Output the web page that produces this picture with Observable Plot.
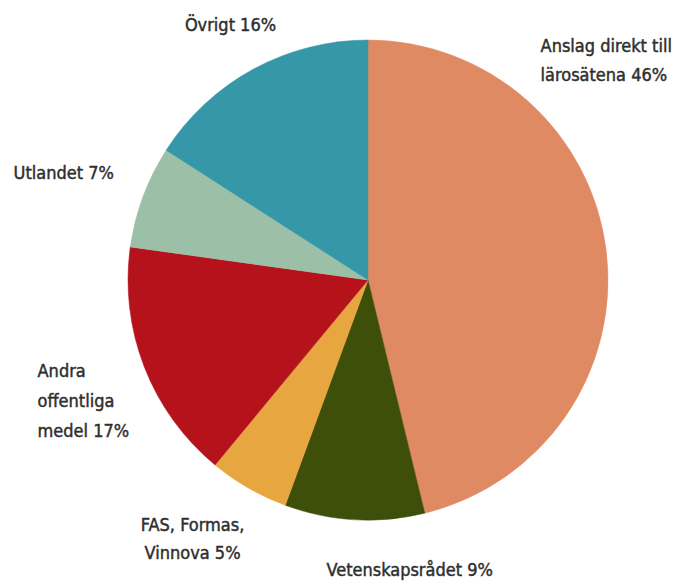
<!DOCTYPE html>
<html>
<head>
<meta charset="utf-8">
<script src="https://cdn.jsdelivr.net/npm/d3@7"></script>
<script src="https://cdn.jsdelivr.net/npm/@observablehq/plot@0.6"></script>
<style>
  html, body { margin: 0; padding: 0; background: #fff; }
  svg { display: block; }
</style>
</head>
<body>
<div id="chart"></div>
<script>
const categories = ["Anslag direkt till lärosätena", "Vetenskapsrådet", "FAS, Formas, Vinnova", "Andra offentliga medel", "Utlandet", "Övrigt"];
const shares = [46.2, 9.4, 5.4, 16.2, 6.9, 15.9];
const colors = ["#E08A63", "#3E4F0A", "#E8A640", "#B5121B", "#9CC0A7", "#3597A8"];
const labelLines = [
  ["Anslag direkt till", "lärosätena 46%"],
  ["Vetenskapsrådet 9%"],
  ["FAS, Formas,", "Vinnova 5%"],
  ["Andra", "offentliga", "medel 17%"],
  ["Utlandet 7%"],
  ["Övrigt 16%"]
];
// label anchor positions (in pie-radius units, centre = 0,0)
const labelX = [0.717, -0.175, -0.733, -1.379, -1.479, -0.575];
const labelY = [0.975, -1.208, -1.021, -0.379, 0.446, 1.062];
const labelAnchor = ["start", "start", "middle", "start", "start", "middle"];
const lineGap = [0.12, 0.12, 0.117, 0.125, 0.12, 0.12];

const slices = categories.map((c, i) => ({category: c, value: shares[i], color: colors[i]}));
const arcs = d3.pie().sort(null).value(d => d.value)(slices);

const labelRows = [];
labelLines.forEach((lines, i) => {
  lines.forEach((t, j) => {
    labelRows.push({text: t, x: labelX[i], y: labelY[i] - j * lineGap[i], anchor: labelAnchor[i]});
  });
});

function pieMark(index, scales, values, dimensions) {
  const cx = scales.x(0), cy = scales.y(0);
  const r = scales.x(1) - scales.x(0);
  const arcGen = d3.arc().innerRadius(0).outerRadius(r);
  const g = d3.create("svg:g").attr("transform", `translate(${cx},${cy})`);
  g.selectAll("path").data(arcs).join("path")
    .attr("d", arcGen)
    .attr("fill", d => d.data.color)
    .attr("stroke", d => d.data.color)
    .attr("stroke-width", 0.5);
  return g.node();
}

const font = "'DejaVu Sans Condensed', 'Liberation Sans Narrow', sans-serif";

const chart = Plot.plot({
  width: 681,
  height: 582,
  marginLeft: 128,
  marginRight: 73,
  marginTop: 40,
  marginBottom: 62,
  x: {domain: [-1, 1], axis: null},
  y: {domain: [-1, 1], axis: null},
  style: {background: "#fff", fontFamily: font},
  marks: [
    pieMark,
    ...["start", "middle"].map(a => Plot.text(labelRows.filter(d => d.anchor === a), {
      x: "x", y: "y", text: "text",
      textAnchor: a,
      fontSize: 18,
      fontWeight: "normal",
      fill: "#2e2e2e",
      stroke: "#2e2e2e",
      strokeWidth: 0.45,
      clip: false
    }))
  ]
});
chart.style.overflow = "visible";
document.getElementById("chart").appendChild(chart);
</script>
</body>
</html>
